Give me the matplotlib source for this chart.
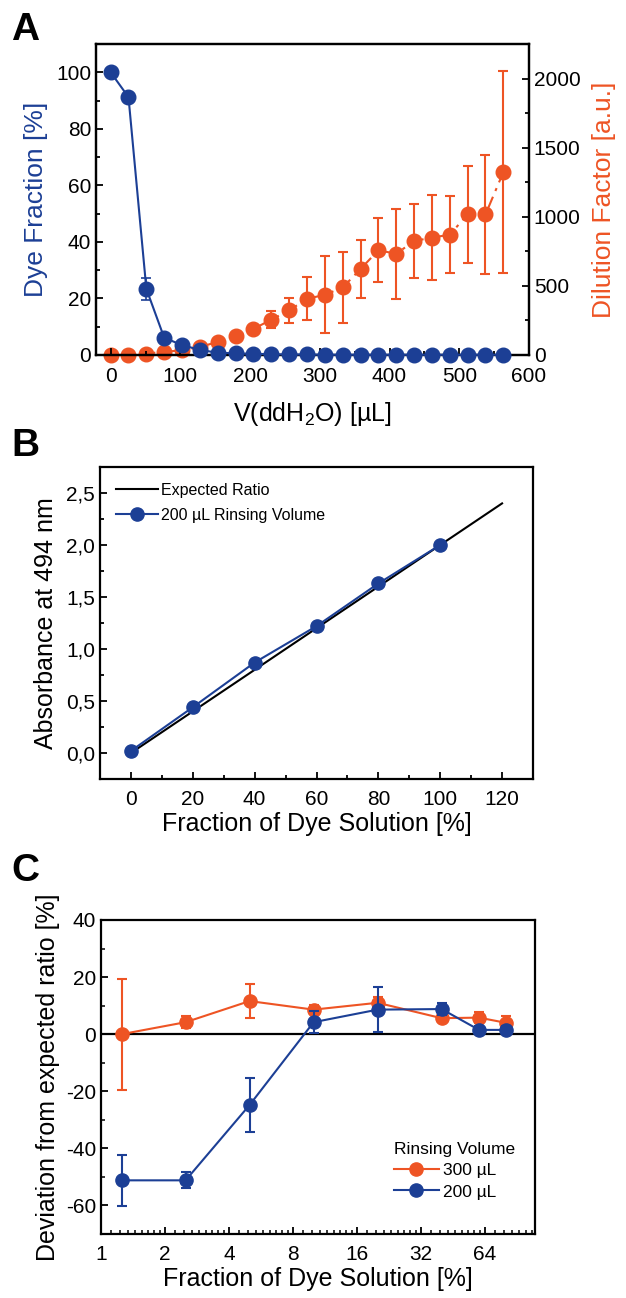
import numpy as np
import matplotlib
matplotlib.use('Agg')
import matplotlib.pyplot as plt
from matplotlib.ticker import MultipleLocator, FixedLocator, FuncFormatter, NullFormatter

plt.rcParams['font.family'] = ['Liberation Sans', 'DejaVu Sans']
plt.rcParams['mathtext.fontset'] = 'custom'
plt.rcParams['mathtext.rm'] = 'Liberation Sans'
plt.rcParams['xtick.direction'] = 'in'
plt.rcParams['ytick.direction'] = 'in'
plt.rcParams['axes.unicode_minus'] = False

BLUE = '#1c3f95'
ORANGE = '#ee5424'

# Panel A: elution profile
vol = [0, 25.6, 51.2, 76.8, 102.4, 128, 153.6, 179.2, 204.8, 230.4, 256, 281.6,
       307.2, 332.8, 358.4, 384, 409.6, 435.2, 460.8, 486.4, 512, 537.6, 563.2]
dye_frac = [100, 91.2, 23.4, 6.1, 3.5, 1.8, 0.8, 0.6, 0.4, 0.3, 0.2, 0.2,
            0.1, 0.1, 0.1, 0.1, 0.1, 0.1, 0.1, 0.1, 0.1, 0.1, 0.1]
dye_err = [0, 0, 3.8, 0, 0, 0, 0, 0, 0, 0, 0, 0,
           0, 0, 0, 0, 0, 0, 0, 0, 0, 0, 0]
dilution = [0, 0, 10, 24, 33, 57, 96, 137, 189, 256, 323, 407,
            436, 489, 623, 759, 733, 826, 850, 872, 1018, 1018, 1325]
dilution_err = [0, 0, 0, 0, 0, 0, 0, 0, 0, 62, 88, 155,
                280, 258, 212, 232, 328, 270, 309, 278, 350, 430, 733]

# Panel B: absorbance vs fraction
frac_b = [0, 20, 40, 60, 80, 100]
absorb = [0.02, 0.44, 0.87, 1.22, 1.63, 2.00]
expected_x = [0, 120]
expected_y = [0, 2.4]

# Panel C: deviation from expected ratio
frac_c = [1.25, 2.5, 5, 10, 20, 40, 60, 80]
dev_300 = [0, 4.2, 11.6, 8.6, 11.0, 5.6, 5.8, 4.0]
err_300 = [19.5, 2.2, 6.0, 1.5, 2.0, 1.5, 2.0, 2.5]
dev_200 = [-51.2, -51.2, -24.8, 4.2, 8.6, 8.8, 1.5, 1.5]
err_200 = [9.0, 2.8, 9.5, 3.8, 7.8, 2.0, 1.5, 1.5]

W, H = 626, 1298
fig = plt.figure(figsize=(W / 100, H / 100), dpi=100)


def box(l, t, r, b):
    return [l / W, 1 - b / H, (r - l) / W, (b - t) / H]


TICK = 15
LAB = 18

# ---- A ----
ax1 = fig.add_axes(box(96, 44, 529, 355))
ax2 = ax1.twinx()
ax2.errorbar(vol, dilution, yerr=dilution_err, color=ORANGE, marker='o', ms=10.5,
             ls=(0, (7, 3, 1.5, 3)), lw=1.5, capsize=3.5, elinewidth=1.5, capthick=1.5,
             clip_on=False, zorder=2)
ax1.errorbar(vol, dye_frac, yerr=dye_err, color=BLUE, marker='o', ms=10.5, ls='-',
             lw=1.5, capsize=3.5, elinewidth=1.2, capthick=1.2, clip_on=False, zorder=3)
ax1.set_zorder(ax2.get_zorder() + 1)
ax1.patch.set_visible(False)
ax1.set_xlim(-21, 600)
ax1.set_ylim(0, 110)
ax2.set_ylim(0, 2253)
ax1.xaxis.set_major_locator(MultipleLocator(100))
ax1.xaxis.set_minor_locator(MultipleLocator(50))
ax1.yaxis.set_major_locator(MultipleLocator(20))
ax1.yaxis.set_minor_locator(MultipleLocator(10))
ax2.yaxis.set_major_locator(MultipleLocator(500))
ax2.yaxis.set_minor_locator(MultipleLocator(250))
ax1.set_xlabel(r'V(ddH$_\mathregular{2}$O) [µL]', fontsize=LAB, labelpad=10)
ax1.set_ylabel('Dye Fraction [%]', fontsize=19, color=BLUE, labelpad=6)
ax2.set_ylabel('Dilution Factor [a.u.]', fontsize=19, color=ORANGE, labelpad=8)
for a in (ax1, ax2):
    a.tick_params(labelsize=TICK, width=1.3, length=5)
    a.tick_params(which='minor', width=1.3, length=3)
    for s in a.spines.values():
        s.set_linewidth(1.6)
ax1.tick_params(axis='x', pad=9)
ax1.tick_params(top=False, right=False, which='both')

# ---- B ----
axb = fig.add_axes(box(100, 467, 533, 779))
axb.plot(expected_x, expected_y, color='black', lw=1.5, label='Expected Ratio')
axb.plot(frac_b, absorb, color=BLUE, lw=1.5, marker='o', ms=9.5,
         label='200 µL Rinsing Volume')
axb.set_xlim(-10, 130)
axb.set_ylim(-0.25, 2.75)
axb.xaxis.set_major_locator(MultipleLocator(20))
axb.xaxis.set_minor_locator(MultipleLocator(10))
axb.yaxis.set_major_locator(FixedLocator([0, 0.5, 1.0, 1.5, 2.0, 2.5]))
axb.yaxis.set_minor_locator(MultipleLocator(0.25))
axb.yaxis.set_major_formatter(FuncFormatter(lambda v, p: f'{v:.1f}'.replace('.', ',')))
axb.set_xlabel('Fraction of Dye Solution [%]', fontsize=LAB, labelpad=2)
axb.set_ylabel('Absorbance at 494 nm', fontsize=LAB, labelpad=6)
axb.tick_params(labelsize=TICK, width=1.3, length=5)
axb.tick_params(axis='x', pad=8)
axb.tick_params(which='minor', width=1.3, length=3)
for s in axb.spines.values():
    s.set_linewidth(1.6)
axb.legend(loc='upper left', frameon=False, fontsize=11.5, handlelength=2.6,
           borderaxespad=0.6, handletextpad=0.2, labelspacing=0.6)

# ---- C ----
axc = fig.add_axes(box(101, 920, 535, 1234))
axc.axhline(0, color='black', lw=1.6, zorder=1)
h300 = axc.errorbar(frac_c, dev_300, yerr=err_300, color=ORANGE, marker='o', ms=9.5,
                    lw=1.5, capsize=3.5, elinewidth=1.5, capthick=1.5, zorder=2)
h200 = axc.errorbar(frac_c, dev_200, yerr=err_200, color=BLUE, marker='o', ms=9.5,
                    lw=1.5, capsize=3.5, elinewidth=1.5, capthick=1.5, zorder=3)
axc.set_xscale('log', base=2)
axc.set_xlim(1, 110)
axc.set_ylim(-70, 40)
axc.xaxis.set_major_locator(FixedLocator([1, 2, 4, 8, 16, 32, 64]))
axc.xaxis.set_major_formatter(FuncFormatter(lambda v, p: f'{v:g}'))
minor = []
for base in [1, 2, 4, 8, 16, 32, 64]:
    minor += [base * (1 + k / 9) for k in range(1, 9)]
axc.xaxis.set_minor_locator(FixedLocator([m for m in minor if m < 110]))
axc.xaxis.set_minor_formatter(NullFormatter())
axc.yaxis.set_major_locator(MultipleLocator(20))
axc.yaxis.set_minor_locator(MultipleLocator(10))
axc.set_xlabel('Fraction of Dye Solution [%]', fontsize=LAB, labelpad=2)
axc.set_ylabel('Deviation from expected ratio [%]', fontsize=LAB, labelpad=4)
axc.tick_params(labelsize=TICK, width=1.3, length=5)
axc.tick_params(axis='x', pad=8)
axc.tick_params(which='minor', width=1.1, length=3)
for s in axc.spines.values():
    s.set_linewidth(1.6)
leg = axc.legend([h300[0], h200[0]], ['300 µL', '200 µL'], loc='lower right',
                 frameon=False, fontsize=12.5, title='Rinsing Volume',
                 title_fontsize=12.5, handlelength=2.6, handletextpad=0.2,
                 labelspacing=0.35, bbox_to_anchor=(0.99, 0.06))
leg._legend_box.align = 'left'

# panel letters
for txt, y in [('A', 12), ('B', 428), ('C', 853)]:
    fig.text(11 / W, 1 - y / H, txt, fontsize=28, fontweight='bold', va='top', ha='left')

fig.savefig('out.png', dpi=100)
